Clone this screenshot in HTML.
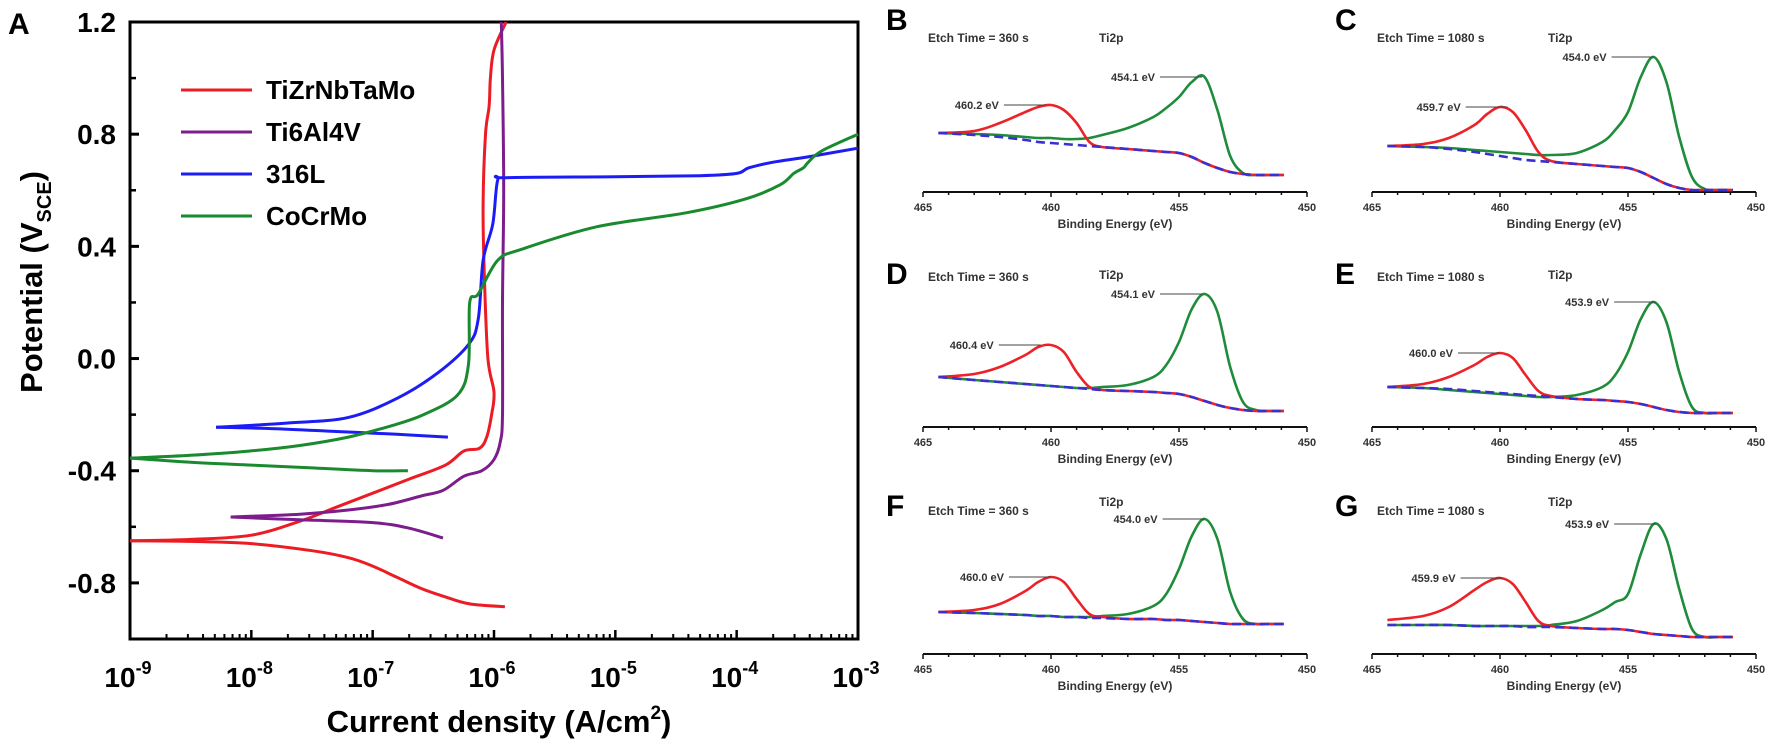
<!DOCTYPE html>
<html><head><meta charset="utf-8"><style>
html,body{margin:0;padding:0;background:#fff}
svg{display:block}
text{font-family:"Liberation Sans",Arial,sans-serif;font-weight:bold}
</style></head><body>
<svg id="fig" width="1772" height="743" viewBox="0 0 1772 743" xmlns="http://www.w3.org/2000/svg">
<g id="panelA"></g>
<g id="xps"></g>
</svg>
<script>
// ---------- Panel A data (log10 current density, potential V) ----------
const redCath=[[-9,-0.65],[-8.5,-0.652],[-8,-0.66],[-7.5,-0.685],[-7.2,-0.71],[-7,-0.74],[-6.8,-0.78],[-6.6,-0.82],[-6.4,-0.85],[-6.2,-0.875],[-5.91,-0.885]];
const redAnod=[[-9,-0.65],[-8.5,-0.645],[-8,-0.63],[-7.6,-0.58],[-7.3,-0.53],[-7,-0.48],[-6.7,-0.43],[-6.4,-0.38],[-6.25,-0.33],[-6.12,-0.32],[-6.06,-0.28],[-6.02,-0.2],[-6.0,-0.12],[-6.05,0.0],[-6.08,0.3],[-6.09,0.55],[-6.07,0.8],[-6.04,0.9],[-6.03,1.0],[-6.0,1.1],[-5.9,1.2]];
const purCath=[[-8.17,-0.565],[-7.6,-0.575],[-7.0,-0.585],[-6.7,-0.605],[-6.42,-0.64]];
const purAnod=[[-8.17,-0.565],[-7.6,-0.555],[-7.2,-0.54],[-6.87,-0.52],[-6.6,-0.49],[-6.42,-0.47],[-6.25,-0.42],[-6.1,-0.40],[-6.0,-0.36],[-5.95,-0.3],[-5.93,-0.2],[-5.93,0.2],[-5.92,0.6],[-5.93,1.0],[-5.94,1.2]];
const bluCath=[[-8.29,-0.245],[-7.8,-0.25],[-7.3,-0.26],[-6.8,-0.27],[-6.38,-0.28]];
const bluAnod=[[-8.29,-0.245],[-7.7,-0.23],[-7.2,-0.21],[-6.79,-0.14],[-6.46,-0.05],[-6.21,0.05],[-6.13,0.14],[-6.09,0.35],[-6.01,0.48],[-5.97,0.635],[-5.9,0.645],[-5,0.648],[-4.3,0.652],[-4.0,0.66],[-3.9,0.68],[-3.7,0.70],[-3.4,0.72],[-3.0,0.75]];
const grnCath=[[-9,-0.355],[-8.5,-0.37],[-8,-0.38],[-7.5,-0.39],[-7,-0.40],[-6.71,-0.40]];
const grnAnod=[[-9,-0.355],[-8.5,-0.345],[-8.02,-0.33],[-7.6,-0.31],[-7.2,-0.28],[-6.85,-0.24],[-6.58,-0.2],[-6.3,-0.13],[-6.21,-0.02],[-6.2,0.2],[-6.13,0.23],[-5.97,0.35],[-5.77,0.39],[-5.15,0.47],[-4.41,0.52],[-3.92,0.57],[-3.64,0.62],[-3.53,0.66],[-3.45,0.68],[-3.41,0.70],[-3.3,0.74],[-3.0,0.80]];
const yTicksA=[-0.8,-0.4,0.0,0.4,0.8,1.2];
const yTickLabelsA=["-0.8","-0.4","0.0","0.4","0.8","1.2"];
const xDecadesA=[-9,-8,-7,-6,-5,-4,-3];
const legendNames=["TiZrNbTaMo","Ti6Al4V","316L","CoCrMo"];

// ---------- XPS data (intensity in a.u. above axis) ----------
const eGrid=[464.4,463,462,461,460.5,460,459.5,459,458.5,458,457,456,455.5,455,454.5,454,453.5,453,452.5,452,451.5,450.9];
const bBg=[59,57,55,52,50,49,48,47,46,45,43,41,40,39,35,29,24,20,18,17,17,17];
const bRed=[59,61,69,80,85,87,82,69,50,45,43,41,40,39,35,29,24,20,18,17,17,17];
const bGrn=[59,58,57,55,54,54,53,53,54,57,64,75,84,95,110,115,82,36,19,17,17,17];
const cBg=[46,45,43,40,38,36,34,32,31,30,28,26,25,24,20,14,8,4,2,2,2,2];
const cRed=[46,48,54,67,78,85,80,62,40,31,28,26,25,24,20,14,8,4,2,2,2,2];
const cGrn=[46,45,44,42,41,40,39,38,37,37,39,50,62,80,115,135,110,55,15,3,2,2];
const dBg=[50,47,45,43,42,41,40,39,38,37,36,35,34,33,30,26,22,19,17,16,16,16];
const dRed=[50,53,60,72,80,82,75,55,40,37,36,35,34,33,30,26,22,19,17,16,16,16];
const dGrn=[50,47,45,43,42,41,40,39,39,40,42,50,62,85,118,133,115,60,25,17,16,16];
const eBg=[40,39,38,36,35,34,33,32,31,30,28,27,26,25,23,20,17,15,14,14,14,14];
const eRed=[40,43,50,62,70,74,69,52,36,31,28,27,26,25,23,20,17,15,14,14,14,14];
const eGrn=[40,39,37,35,34,33,32,31,30,30,32,40,52,75,108,125,105,55,20,14,14,14];
const fBg=[42,41,40,39,38,38,37,37,36,36,35,35,34,34,33,32,31,30,30,30,30,30];
const fRed=[42,44,50,63,72,77,72,55,40,37,35,35,34,34,33,32,31,30,30,30,30,30];
const fGrn=[42,41,40,39,38,38,37,37,37,38,40,48,60,85,118,135,115,62,35,30,30,30];
const gBg=[29,29,29,28,28,28,28,27,27,27,26,25,25,24,22,20,19,18,17,17,17,17];
const gRed=[34,38,47,64,72,76,70,52,33,28,26,25,25,24,22,20,19,18,17,17,17,17];
const gGrn=[29,29,29,28,28,28,28,28,28,29,33,44,52,60,100,130,115,65,25,17,17,17];
const panelLetters=["B","C","D","E","F","G"];
const etchTimes=["360","1080","360","1080","360","1080"];
const redPeakEv=[460.2,459.7,460.4,460.0,460.0,459.9];
const grnPeakEv=[454.1,454.0,454.1,453.9,454.0,453.9];
const xTicksX=[465,460,455,450];

const NS="http://www.w3.org/2000/svg";
function mk(tag,attrs,parent){const e=document.createElementNS(NS,tag);for(const k in attrs)e.setAttribute(k,attrs[k]);parent.appendChild(e);return e;}
function smooth(pts){let d="M"+pts[0][0].toFixed(1)+","+pts[0][1].toFixed(1);
 for(let i=0;i<pts.length-1;i++){const p0=pts[Math.max(0,i-1)],p1=pts[i],p2=pts[i+1],p3=pts[Math.min(pts.length-1,i+2)];
 const c1=[p1[0]+(p2[0]-p0[0])/6,p1[1]+(p2[1]-p0[1])/6],c2=[p2[0]-(p3[0]-p1[0])/6,p2[1]-(p3[1]-p1[1])/6];
 d+="C"+c1[0].toFixed(1)+","+c1[1].toFixed(1)+" "+c2[0].toFixed(1)+","+c2[1].toFixed(1)+" "+p2[0].toFixed(1)+","+p2[1].toFixed(1);}return d;}

// ---------- Panel A ----------
const A=document.getElementById('panelA');
const AL=130,AR=858,AT=22,AB=639,XMIN=-9,XMAX=-3,YMIN=-1.0,YMAX=1.2;
const xA=v=>AL+(v-XMIN)/(XMAX-XMIN)*(AR-AL);
const yA=v=>AT+(YMAX-v)/(YMAX-YMIN)*(AB-AT);
let t;
t=mk('text',{x:8,y:34,'font-size':30},A);t.textContent="A";


const box=mk('rect',{x:AL,y:AT,width:AR-AL,height:AB-AT,fill:'none',stroke:'#000','stroke-width':3},A);


yTicksA.forEach((v,i)=>{
 const tk=mk('line',{x1:AL,x2:AL+9,y1:yA(v),y2:yA(v),stroke:'#000','stroke-width':3},A);
 
 
 const m=v+0.2; if(m<YMAX){const mt=mk('line',{x1:AL,x2:AL+6,y1:yA(m),y2:yA(m),stroke:'#000','stroke-width':2.5},A);
 
 }
 const lb=mk('text',{x:AL-14,y:yA(v)+10,'font-size':28,'text-anchor':'end'},A);lb.textContent=yTickLabelsA[i];
 
 
});
xDecadesA.forEach(d=>{
 const tk=mk('line',{x1:xA(d),x2:xA(d),y1:AB,y2:AB-9,stroke:'#000','stroke-width':2.5},A);
 
 
 if(d<XMAX){for(let k=2;k<10;k++){const mt=mk('line',{x1:xA(d+Math.log10(k)),x2:xA(d+Math.log10(k)),y1:AB,y2:AB-5,stroke:'#000','stroke-width':2},A);
 
 }}
 const lb=mk('text',{x:xA(d)-2,y:AB+48,'font-size':28,'text-anchor':'middle'},A);
 
 
 const s1=mk('tspan',{},lb);s1.textContent="10";
 const s2=mk('tspan',{dy:-13,'font-size':18},lb);s2.textContent=String(d);
});
t=mk('text',{x:(AL+AR)/2+5,y:AB+93,'font-size':31,'text-anchor':'middle'},A);


mk('tspan',{},t).textContent="Current density (A/cm";
mk('tspan',{dy:-13,'font-size':19},t).textContent="2";
mk('tspan',{dy:13},t).textContent=")";
t=mk('text',{x:0,y:0,'font-size':31,'text-anchor':'middle',transform:'translate(42,282) rotate(-90)'},A);


mk('tspan',{},t).textContent="Potential (V";
mk('tspan',{dy:9,'font-size':20},t).textContent="SCE";
mk('tspan',{dy:-9},t).textContent=")";
const colsA=['#ec1c24','#7d1c8c','#1c1cf5','#1a8a2e'];
const seriesA=[[redCath,redAnod],[purCath,purAnod],[bluCath,bluAnod],[grnCath,grnAnod]];
const sNames=['tizrnbtamo','ti6al4v','316l','cocrmo'];
seriesA.forEach((br,i)=>br.forEach((arr,j)=>{
 const p=mk('path',{d:smooth(arr.map(q=>[xA(q[0]),yA(q[1])])),fill:'none',stroke:colsA[i],'stroke-width':3,'stroke-linejoin':'round'},A);
 
 
}));
legendNames.forEach((n,i)=>{
 const y=90+i*42;
 const l=mk('line',{x1:181,x2:252,y1:y,y2:y,stroke:colsA[i],'stroke-width':3},A);
 
 
 const tx=mk('text',{x:266,y:y+9,'font-size':26},A);tx.textContent=n;
 
 
});

// ---------- XPS panels ----------
const X=document.getElementById('xps');
const panels=[[bBg,bRed,bGrn],[cBg,cRed,cGrn],[dBg,dRed,dGrn],[eBg,eRed,eGrn],[fBg,fRed,fGrn],[gBg,gRed,gGrn]];
const colX=[923,1372], rowAxis=[192,427,654], letterY=[30,284,516], etchY=[42,281,515], tiY=[42,279,506];
const PXEV=25.6;
panels.forEach((pd,i)=>{
 const r=Math.floor(i/2);
 const x0=colX[i%2], ay=rowAxis[r], ly=letterY[r];
 const g=mk('g',{},X);
 
 
 const xe=e=>x0+(465-e)*PXEV, yi=v=>ay-v;
 let tt=mk('text',{x:x0-37,y:ly,'font-size':30},g);tt.textContent=panelLetters[i];
 
 
 tt=mk('text',{x:x0+5,y:etchY[r],'font-size':12,fill:'#333'},g);tt.textContent="Etch Time = "+etchTimes[i]+" s";
 
 
 tt=mk('text',{x:x0+176,y:tiY[r],'font-size':12,fill:'#333'},g);tt.textContent="Ti2p";
 
 
 const ax=mk('line',{x1:x0,x2:x0+15*PXEV,y1:ay,y2:ay,stroke:'#111','stroke-width':2},g);
 
 
 for(let e=465;e>=450;e--){const tk=mk('line',{x1:xe(e),x2:xe(e),y1:ay,y2:ay+((e%5)?3:5),stroke:'#111','stroke-width':1.5},g);
 
 }
 xTicksX.forEach(e=>{const lb=mk('text',{x:xe(e),y:ay+19,'font-size':11,'text-anchor':'middle',fill:'#333'},g);lb.textContent=String(e);
 
 });
 tt=mk('text',{x:x0+7.5*PXEV,y:ay+36,'font-size':12,'text-anchor':'middle',fill:'#333'},g);tt.textContent="Binding Energy (eV)";
 
 
 const toPts=arr=>arr.map((v,k)=>[xe(eGrid[k]),yi(v)]);
 let p=mk('path',{d:smooth(toPts(pd[2])),fill:'none',stroke:'#1e8c3a','stroke-width':2.6},g);
 
 
 p=mk('path',{d:smooth(toPts(pd[1])),fill:'none',stroke:'#ec2229','stroke-width':2.6},g);
 
 
 p=mk('path',{d:smooth(toPts(pd[0])),fill:'none',stroke:'#3a2fd0','stroke-width':2.6,'stroke-dasharray':'9,5'},g);
 
 
 [[redPeakEv[i],pd[1]],[grnPeakEv[i],pd[2]]].forEach(([ev,arr],k)=>{
  const mx=Math.max(...arr), px=xe(ev), py=yi(mx);
  const ln=mk('line',{x1:px-42,x2:px,y1:py,y2:py,stroke:'#444','stroke-width':1},g);
  
  
  const lb=mk('text',{x:px-47,y:py+4,'font-size':11,'text-anchor':'end',fill:'#333'},g);lb.textContent=ev.toFixed(1)+" eV";
  
  
 });
});
</script>
</body></html>
